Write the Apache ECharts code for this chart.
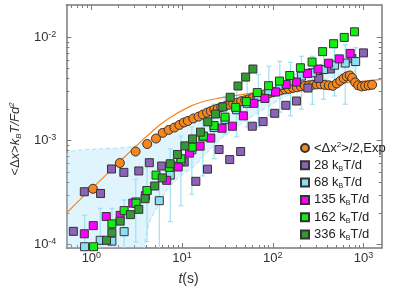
<!DOCTYPE html>
<html><head><meta charset="utf-8">
<script src="https://cdn.jsdelivr.net/npm/echarts@6/dist/echarts.min.js"></script>
<style>html,body{margin:0;padding:0;background:#fff}#c{width:395px;height:291px}</style>
</head><body><div id="c"></div>
<script>
// ---- tick values ----
const xTickMajor = [1, 10, 100, 1000];
const xTickMinor = [0.6,0.7,0.8,0.9,2,3,4,5,6,7,8,9,20,30,40,50,60,70,80,90,200,300,400,500,600,700,800,900];
const yTickMajor = [1e-4, 1e-3, 1e-2];
const yTickMinor = [2e-4,3e-4,4e-4,5e-4,6e-4,7e-4,8e-4,9e-4,2e-3,3e-3,4e-3,5e-3,6e-3,7e-3,8e-3,9e-3];

// ---- series names ----
const seriesNames = ['<Δx²>/2,Exp','28 kBT/d','68 kBT/d','135 kBT/d','162 kBT/d','336 kBT/d'];

// ---- experiment <Δx²>/2 ----
const expT = [1.041,2.06,3.072,4.129,5.158,6.109,7.108,8.232,9.342,10.46,11.58,13.31,15.18,16.92,18.86,20.71,22.62,24.72,27.01,29.87,33.05,36.57,40.46,44.76,49.53,54.8,60.62,67.07,74.23,82.12,90.86,100.5,111.2,123,136.1,150.6,166.6,184.4,203.9,225.7,249.7,276.3,305.7,338.1,374.1,414,458,506.8,553.6,604.5,652.4,703.9,749.8,808.7,872.5,953.1,1041,1138,1243];
const expY = [3.43e-4,6.09e-4,7.86e-4,9.28e-4,1.05e-3,1.19e-3,1.27e-3,1.34e-3,1.42e-3,1.50e-3,1.55e-3,1.64e-3,1.71e-3,1.79e-3,1.87e-3,1.93e-3,1.996e-3,2.04e-3,2.11e-3,2.16e-3,2.23e-3,2.28e-3,2.33e-3,2.41e-3,2.46e-3,2.52e-3,2.60e-3,2.66e-3,2.72e-3,2.81e-3,2.87e-3,2.94e-3,3.00e-3,3.07e-3,3.14e-3,3.17e-3,3.24e-3,3.28e-3,3.35e-3,3.39e-3,3.43e-3,3.47e-3,3.50e-3,3.50e-3,3.47e-3,3.43e-3,3.39e-3,3.58e-3,3.79e-3,4.00e-3,4.18e-3,4.27e-3,4.05e-3,3.66e-3,3.43e-3,3.35e-3,3.39e-3,3.43e-3,3.47e-3];

// ---- 28 kBT/d ----
const p28T = [0.633,0.836,1.262,1.666,2.28,3.331,4.354,5.957,8.067,10.55,14.17,19.05,25.54,33.48,44.19,59.4,78.07,104.9,138.9,182,243.5,319.9,430,744.1,997.5];
const p28Y = [1.33e-4,3.21e-4,3.09e-4,5.33e-4,4.94e-4,5.10e-4,6.13e-4,5.69e-4,5.69e-4,6.22e-4,4.05e-4,5.31e-4,8.22e-4,6.57e-4,7.86e-4,1.38e-3,1.53e-3,1.84e-3,2.20e-3,2.42e-3,3.23e-3,4.00e-3,4.93e-3,6.22e-3,7.06e-3];

// ---- 68 kBT/d (with error bars) ----
const p68T = [0.842,1.252,1.683,2.297,3.087,4.108,5.607,7.403,9.701,12.81,16.92,22.51,29.72,39.95,52.1,69.13,90.4,119.4,156.5,206.5,272.8,362.9,479.4,628.1,819];
const p68Y = [9.44e-5,1.09e-4,1.07e-4,1.32e-4,2.56e-4,3.30e-4,2.63e-4,4.65e-4,6.40e-4,8.16e-4,1.09e-3,1.34e-3,1.60e-3,1.99e-3,2.30e-3,2.67e-3,3.02e-3,3.43e-3,3.77e-3,4.21e-3,4.54e-3,4.88e-3,5.37e-3,5.63e-3,5.82e-3];
const p68Lo = [7.4e-5,7.4e-5,7.4e-5,7.4e-5,1.05e-4,1.06e-4,7.4e-5,1.65e-4,2.35e-4,3.04e-4,4.57e-4,6.69e-4,1.16e-3,1.09e-3,1.36e-3,1.36e-3,1.74e-3,1.89e-3,1.74e-3,2.02e-3,2.25e-3,2.52e-3,2.71e-3,2.25e-3,3.14e-3];
const p68Hi = [1.90e-4,2.22e-4,2.22e-4,2.67e-4,4.24e-4,5.99e-4,5.99e-4,8.34e-4,1.11e-3,1.36e-3,1.69e-3,2.25e-3,2.69e-3,3.28e-3,3.85e-3,4.37e-3,5.25e-3,5.86e-3,5.73e-3,6.55e-3,6.55e-3,7.59e-3,7.93e-3,8.47e-3,7.93e-3];

// ---- 135 kBT/d ----
const p135T = [0.836,1.049,1.458,2.076,2.861,3.936,6.758,9.065,12.09,15.8,20.71,27.56,35.84,47.33,61.85,81.71,107.1,140.3,182,240.4,315.1,411.9,539.8,712.8];
const p135Y = [1.26e-4,1.51e-4,1.85e-4,1.90e-4,2.49e-4,2.94e-4,4.14e-4,5.57e-4,7.59e-4,8.86e-4,1.06e-3,1.32e-3,1.38e-3,1.74e-3,2.30e-3,2.56e-3,2.96e-3,3.50e-3,3.69e-3,4.47e-3,4.93e-3,5.61e-3,6.18e-3,6.98e-3];

// ---- 162 kBT/d ----
const p162T = [1.057,1.683,2.297,3.11,4.108,5.158,7.217,9.701,12.91,17.14,22.51,29.72,38.95,51.05,67.41,89.72,118.4,153.7,201.4,270.7,353.9,467.4,612.4,794.5];
const p162Y = [9.44e-5,1.57e-4,2.11e-4,2.49e-4,3.30e-4,4.65e-4,5.52e-4,6.69e-4,8.66e-4,1.11e-3,1.40e-3,1.69e-3,2.10e-3,2.39e-3,2.92e-3,3.40e-3,3.77e-3,4.27e-3,5.07e-3,5.76e-3,7.26e-3,8.66e-3,9.96e-3,1.129e-2];

// ---- 336 kBT/d ----
const p336T = [1.469,1.683,2.076,2.693,3.331,3.906,4.99,6.048,7.403,8.883,10.73,13.04,15.96,19.2,23.32,28.05,33.9,41.29,50.15,60.31];
const p336Y = [1.09e-4,1.29e-4,1.67e-4,1.93e-4,2.17e-4,2.75e-4,3.65e-4,4.37e-4,5.99e-4,7.36e-4,8.91e-4,1.04e-3,1.21e-3,1.52e-3,1.81e-3,2.12e-3,2.63e-3,3.38e-3,4.12e-3,4.93e-3];

// ---- fit curve (orange line) ----
const fitT = [0.53,0.775,1.284,2.129,3.53,4.545,5.853,7.537,9.70,12.49,16.09,23.5,37.03,73.28,156.5,333.9,712.8,1588];
const fitY = [1.99e-4,2.77e-4,4.21e-4,6.48e-4,9.85e-4,1.201e-3,1.449e-3,1.691e-3,1.931e-3,2.157e-3,2.355e-3,2.544e-3,2.719e-3,2.97e-3,3.208e-3,3.428e-3,3.66e-3,3.913e-3];

// ---- shaded band (light blue, dashed border) ----
const bandUpperT = [0.53,0.572,0.775,1.284,2.129,3.11,4.545,6.64,9.70,14.17,20.71,31.59,44.19,73.28,121.5,201.4,338.1,553.6,808.7];
const bandUpperY = [7.15e-4,7.81e-4,8.16e-4,8.34e-4,8.53e-4,8.91e-4,1.04e-3,1.24e-3,1.48e-3,1.73e-3,1.93e-3,2.16e-3,2.52e-3,3.00e-3,3.75e-3,4.67e-3,5.45e-3,6.36e-3,6.80e-3];
const bandLowerT = [808.7,553.6,338.1,201.4,121.5,73.28,44.19,26.67,18.25,13.48,9.70,6.98,5.43,4.32,3.62];
const bandLowerY = [4.67e-3,4.37e-3,3.75e-3,3.14e-3,2.52e-3,1.93e-3,1.45e-3,1.04e-3,7.47e-4,5.61e-4,4.60e-4,3.45e-4,2.37e-4,1.59e-4,7.0e-5];

// ---- layout / style ----
const FONT = 'Liberation Sans';
const xMin = 0.53, xMax = 1585, yMin = 9.18e-5, yMax = 0.0205;
const axisColor = '#7a7a7a';
const colors = ['#f7861d','#8c63b5','#8fdcf5','#ff00ff','#11ee11','#339933'];

const zip = (a, b) => a.map((v, i) => [v, b[i]]);

const tickRich = {
  b: {fontFamily: FONT, fontSize: 13, color: '#333', lineHeight: 15},
  s: {fontFamily: FONT, fontSize: 9, color: '#333', verticalAlign: 'top'}
};
function tickFmt(v) {
  const e = Math.round(Math.log10(v));
  return '{b|10}{s|' + e + '}';
}

function mkAxis(isX, pos, ticks, len, showLine, labels) {
  const ax = {
    type: 'log', logBase: 10, position: pos,
    min: isX ? xMin : yMin, max: isX ? xMax : yMax,
    splitLine: {show: false},
    axisLine: {show: showLine, onZero: false, lineStyle: {color: axisColor, width: 1.5}},
    axisTick: {show: true, inside: true, length: len, customValues: ticks, lineStyle: {color: axisColor, width: 1}},
    axisLabel: {show: false}
  };
  if (labels) {
    ax.axisLabel = {show: true, customValues: labels, formatter: tickFmt, rich: tickRich,
      margin: isX ? 3 : 10, fontFamily: FONT};
  }
  return ax;
}

const xAxes = [
  mkAxis(true, 'bottom', xTickMajor, 5, true, xTickMajor),
  mkAxis(true, 'bottom', xTickMinor, 3, false, null),
  mkAxis(true, 'top', xTickMajor, 5, true, null),
  mkAxis(true, 'top', xTickMinor, 3, false, null)
];
xAxes[0].name = '{i|t}{t|(s)}';
xAxes[0].nameLocation = 'middle';
xAxes[0].nameGap = 24;
xAxes[0].nameTextStyle = {fontFamily: FONT, fontSize: 14, color: '#333', padding: [0, 71, 0, 0],
  rich: {i: {fontFamily: FONT, fontSize: 14, fontStyle: 'italic', color: '#333'},
         t: {fontFamily: FONT, fontSize: 14, color: '#333'}}};

const yAxes = [
  mkAxis(false, 'left', yTickMajor, 5, true, yTickMajor),
  mkAxis(false, 'left', yTickMinor, 3, false, null),
  mkAxis(false, 'right', yTickMajor, 5, true, null),
  mkAxis(false, 'right', yTickMinor, 3, false, null)
];
yAxes[0].name = '{t|<Δ}{i|x}{t|>}{i|k}{sub|B}{i|T/Fd}{sup|2}';
yAxes[0].nameLocation = 'middle';
yAxes[0].nameGap = 35;
yAxes[0].nameTextStyle = {fontFamily: FONT, fontSize: 13, color: '#333', padding: [0, 25, 0, 0],
  rich: {
    t: {fontFamily: FONT, fontSize: 13, color: '#333', lineHeight: 15},
    i: {fontFamily: FONT, fontSize: 13, fontStyle: 'italic', color: '#333', lineHeight: 15},
    sub: {fontFamily: FONT, fontSize: 8, fontStyle: 'italic', color: '#333', verticalAlign: 'bottom'},
    sup: {fontFamily: FONT, fontSize: 8, fontStyle: 'italic', color: '#333', verticalAlign: 'top'}
  }};

const legendRichText = {
  '<Δx²>/2,Exp': '{t|<Δx}{sup|2}{t|>/2,Exp}',
  '28 kBT/d': '{t|28 k}{sub|B}{t|T/d}',
  '68 kBT/d': '{t|68 k}{sub|B}{t|T/d}',
  '135 kBT/d': '{t|135 k}{sub|B}{t|T/d}',
  '162 kBT/d': '{t|162 k}{sub|B}{t|T/d}',
  '336 kBT/d': '{t|336 k}{sub|B}{t|T/d}'
};

const markBorder = {borderColor: '#333', borderWidth: 1};
function sq(name, T, Y, color) {
  return {name: name, type: 'scatter', symbol: 'rect', symbolSize: 8, data: zip(T, Y),
    itemStyle: Object.assign({color: color, opacity: 1}, markBorder), z: 5};
}

const option = {
  animation: false,
  backgroundColor: '#fff',
  grid: {left: 65, right: 13.3, top: 5, bottom: 41},
  xAxis: xAxes,
  yAxis: yAxes,
  legend: {
    data: seriesNames, orient: 'vertical', left: 295, top: 136,
    itemWidth: 8, itemHeight: 8, itemGap: 3.3,
    formatter: n => legendRichText[n],
    textStyle: {fontFamily: FONT, fontSize: 13, color: '#222', lineHeight: 14,
      rich: {
        t: {fontFamily: FONT, fontSize: 13, color: '#222', lineHeight: 14},
        sub: {fontFamily: FONT, fontSize: 7, color: '#222', verticalAlign: 'bottom'},
        sup: {fontFamily: FONT, fontSize: 8, color: '#222', verticalAlign: 'top'}
      }}
  },
  series: [
    {
      name: 'band', type: 'custom', clip: true, z: 1, silent: true,
      data: [[1, 1e-3]],
      renderItem: function (params, api) {
        const up = bandUpperT.map((t, i) => api.coord([t, bandUpperY[i]]));
        const lo = bandLowerT.map((t, i) => api.coord([t, bandLowerY[i]]));
        const corner = api.coord([bandUpperT[0], bandLowerY[bandLowerY.length - 1]]);
        const dash = {fill: 'none', stroke: '#a6e1f5', lineWidth: 1, lineDash: [4, 3]};
        return {type: 'group', children: [
          {type: 'polygon', shape: {points: up.concat(lo, [corner])}, style: {fill: 'rgba(150,220,245,0.3)', stroke: 'none'}},
          {type: 'polyline', shape: {points: up, smooth: 0.2}, style: dash},
          {type: 'polyline', shape: {points: lo, smooth: 0.2}, style: dash}
        ]};
      }
    },
    {
      name: 'errbars', type: 'custom', clip: true, z: 2, silent: true,
      data: p68T.map((t, i) => [t, p68Lo[i], p68Hi[i]]),
      encode: {x: 0, y: [1, 2]},
      renderItem: function (params, api) {
        const x = api.value(0);
        const a = api.coord([x, api.value(1)]);
        const b = api.coord([x, api.value(2)]);
        const w = 2.5;
        const st = {stroke: '#9fe0f5', lineWidth: 1.2};
        return {type: 'group', children: [
          {type: 'line', shape: {x1: a[0], y1: a[1], x2: b[0], y2: b[1]}, style: st},
          {type: 'line', shape: {x1: a[0] - w, y1: a[1], x2: a[0] + w, y2: a[1]}, style: st},
          {type: 'line', shape: {x1: b[0] - w, y1: b[1], x2: b[0] + w, y2: b[1]}, style: st}
        ]};
      }
    },
    {
      name: 'fit', type: 'line', smooth: 0.3, showSymbol: false, symbol: 'none', z: 3,
      data: zip(fitT, fitY), lineStyle: {color: '#f7861d', width: 1.2}, silent: true
    },
    {
      name: seriesNames[0], type: 'scatter', symbol: 'circle', symbolSize: 9, z: 4,
      data: zip(expT, expY), itemStyle: Object.assign({color: colors[0], opacity: 1}, markBorder)
    },
    sq(seriesNames[1], p28T, p28Y, colors[1]),
    sq(seriesNames[2], p68T, p68Y, colors[2]),
    sq(seriesNames[3], p135T, p135Y, colors[3]),
    sq(seriesNames[4], p162T, p162Y, colors[4]),
    sq(seriesNames[5], p336T, p336Y, colors[5])
  ]
};

const chart = echarts.init(document.getElementById('c'), null, {renderer: 'canvas'});
chart.setOption(option);
</script>
</body></html>
